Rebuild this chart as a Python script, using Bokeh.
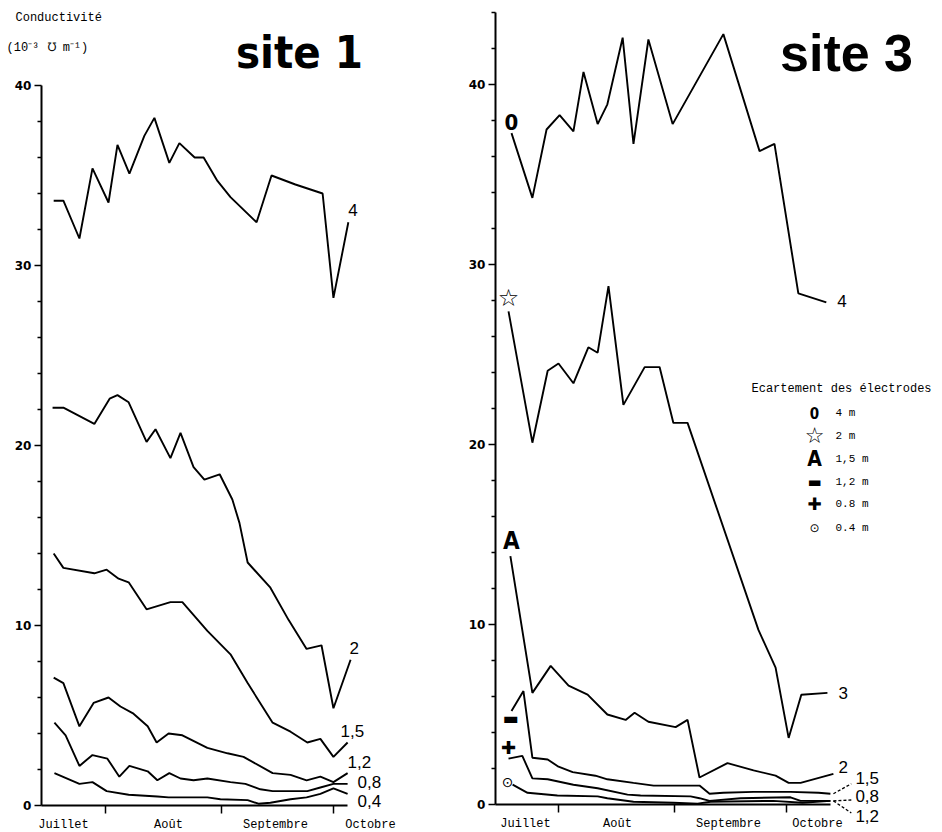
from bokeh.plotting import figure
from bokeh.layouts import row
from bokeh.models import Range1d, FixedTicker, Label
from bokeh.embed import file_html
from bokeh.resources import INLINE

# x: days after 1 July ; y: conductivity (10^-3 mho/m)
# ---------------- site 1 ----------------
s1_4_x = [17.1, 19.7, 24.0, 27.5, 31.8, 34.2, 37.4, 41.4, 44.1, 48.1, 50.8, 54.9, 57.3, 61.0, 64.5, 71.5, 75.5, 81.9, 89.2, 92.1, 96.1]
s1_4_y = [33.6, 33.6, 31.5, 35.4, 33.5, 36.7, 35.1, 37.2, 38.2, 35.7, 36.8, 36.0, 36.0, 34.7, 33.8, 32.4, 35.0, 34.5, 34.0, 28.2, 32.4]

s1_2_x = [16.8, 19.7, 28.0, 32.1, 34.2, 37.2, 42.0, 44.4, 48.4, 51.1, 54.6, 57.5, 61.6, 65.0, 66.9, 69.1, 75.2, 80.1, 84.9, 88.9, 92.1, 96.7]
s1_2_y = [22.1, 22.1, 21.2, 22.6, 22.8, 22.4, 20.2, 20.9, 19.3, 20.7, 18.8, 18.1, 18.4, 17.0, 15.7, 13.5, 12.1, 10.3, 8.7, 8.9, 5.4, 8.1]

s1_15_x = [17.1, 19.7, 28.0, 31.3, 34.5, 37.2, 42.0, 48.4, 51.6, 58.3, 64.5, 69.1, 75.8, 80.6, 85.1, 88.6, 92.1, 95.9]
s1_15_y = [14.0, 13.2, 12.9, 13.1, 12.6, 12.4, 10.9, 11.3, 11.3, 9.7, 8.4, 6.8, 4.6, 4.1, 3.5, 3.7, 2.7, 3.5]

s1_12_x = [17.1, 19.7, 24.0, 27.8, 31.8, 35.0, 38.5, 42.3, 44.7, 47.9, 51.6, 58.3, 63.7, 68.0, 75.8, 80.6, 84.9, 88.6, 92.1, 95.9]
s1_12_y = [7.1, 6.8, 4.4, 5.7, 6.0, 5.5, 5.1, 4.4, 3.5, 4.0, 3.9, 3.2, 2.9, 2.7, 1.8, 1.7, 1.4, 1.6, 1.3, 1.8]

s1_08_x = [17.3, 20.3, 24.0, 27.5, 31.5, 34.7, 37.4, 42.3, 44.9, 48.1, 51.1, 54.6, 58.3, 64.5, 68.5, 72.5, 75.8, 80.6, 85.1, 88.6, 92.1, 95.9]
s1_08_y = [4.6, 3.9, 2.2, 2.8, 2.6, 1.6, 2.2, 1.9, 1.4, 1.8, 1.5, 1.4, 1.5, 1.3, 1.2, 0.9, 0.8, 0.8, 0.8, 1.0, 1.2, 1.2]

s1_04_x = [17.3, 24.0, 27.5, 31.3, 37.2, 44.9, 47.9, 58.3, 61.8, 69.1, 72.0, 75.2, 80.6, 84.9, 88.6, 92.1, 95.9]
s1_04_y = [1.8, 1.2, 1.3, 0.8, 0.6, 0.5, 0.45, 0.45, 0.35, 0.3, 0.1, 0.15, 0.35, 0.45, 0.65, 0.95, 0.65]

s1_names = ["4", "2", "1,5", "1,2", "0,8", "0,4"]

# ---------------- site 3 ----------------
s3_4_x = [18.4, 24.0, 27.8, 31.3, 35.0, 37.7, 41.5, 44.1, 48.2, 51.1, 55.1, 61.6, 75.2, 84.9, 88.9, 95.3, 102.8]
s3_4_y = [37.3, 33.7, 37.5, 38.3, 37.4, 40.7, 37.8, 38.9, 42.6, 36.7, 42.5, 37.8, 42.8, 36.3, 36.7, 28.4, 27.9]

s3_3_x = [17.6, 24.0, 28.1, 31.0, 35.0, 39.0, 41.5, 44.4, 48.4, 54.1, 58.1, 61.8, 65.6, 84.6, 89.2, 92.7, 96.1, 103.1]
s3_3_y = [27.4, 20.1, 24.1, 24.5, 23.4, 25.4, 25.1, 28.8, 22.2, 24.3, 24.3, 21.2, 21.2, 9.7, 7.6, 3.7, 6.1, 6.2]

s3_2_x = [18.1, 24.0, 28.9, 33.7, 38.8, 44.1, 49.0, 51.4, 55.1, 62.4, 65.6, 68.8, 76.3, 83.3, 89.2, 92.7, 95.9, 104.7]
s3_2_y = [13.8, 6.2, 7.7, 6.6, 6.1, 5.0, 4.7, 5.1, 4.6, 4.3, 4.7, 1.5, 2.3, 1.9, 1.6, 1.2, 1.2, 1.7]

s3_15_x = [18.4, 21.6, 24.0, 28.1, 31.0, 34.8, 40.9, 44.1, 51.1, 56.5, 68.8, 71.5, 75.2, 83.3, 93.2, 100.7, 103.9]
s3_15_y = [5.2, 6.3, 2.6, 2.5, 2.1, 1.8, 1.6, 1.4, 1.2, 1.05, 1.05, 0.6, 0.65, 0.7, 0.7, 0.65, 0.6]

s3_08_x = [17.6, 21.3, 24.0, 28.1, 35.0, 41.5, 49.5, 53.0, 66.4, 68.8, 71.5, 79.8, 93.2, 95.9, 103.9]
s3_08_y = [2.55, 2.7, 1.45, 1.4, 1.1, 0.9, 0.55, 0.5, 0.45, 0.35, 0.2, 0.35, 0.4, 0.2, 0.2]

s3_12_x = [18.7, 22.7, 30.7, 41.5, 44.1, 51.1, 61.8, 68.3, 71.8, 88.6, 96.4, 103.9]
s3_12_y = [1.1, 0.65, 0.5, 0.45, 0.35, 0.15, 0.1, 0.05, 0.15, 0.2, 0.1, 0.2]

s3_names = ["4", "3", "2", "1,5", "0,8", "1,2"]
s3_markers = ["0", "\u2606", "A", "\u25ac", "\u271a", "\u2299"]
legend_labels = ["4 m", "2 m", "1,5 m", "1,2 m", "0.8 m", "0.4 m"]

months = ["Juillet", "Août", "Septembre", "Octobre"]
month_bounds = [31, 62, 92]
y_major = [0, 10, 20, 30, 40]

MONO = "Liberation Mono"
SANS = "Liberation Sans"
NARROW = "'Liberation Sans Narrow', 'DejaVu Sans Condensed', 'Liberation Sans', sans-serif"

H = 830


def s1_px(ix, iy):
    return ((ix + 10.6) / 3.73, (805 - iy) / 18.0)


def s3_px(ix, iy):
    return (31 + (ix - 558) / 3.73, (804 - iy) / 18.0)


def add_label(p, xy, text, font, size, style="normal", align="left",
              baseline="middle", dx=0, dy=0):
    p.add_layout(Label(x=xy[0], y=xy[1], text=text, text_font=font,
                       text_font_size=f"{size}px", text_font_style=style,
                       text_align=align, text_baseline=baseline,
                       x_offset=dx, y_offset=dy, text_color="black"))


def make_fig(px, left, right, x0, x1, ymax):
    (xa_, yb_) = px(left, H)
    (xb_, yt_) = px(right, 0)
    p = figure(width=right - left, height=H,
               x_range=Range1d(xa_, xb_), y_range=Range1d(yb_, yt_),
               min_border=0, min_border_left=0, min_border_right=0,
               min_border_top=0, min_border_bottom=0,
               toolbar_location=None, output_backend="svg")
    p.xgrid.visible = False
    p.ygrid.visible = False
    p.outline_line_color = None
    p.background_fill_color = "white"
    p.border_fill_color = "white"
    ya = p.yaxis[0]
    ya.fixed_location = x0
    ya.bounds = (0, ymax)
    ya.ticker = FixedTicker(ticks=y_major,
                            minor_ticks=[v for v in range(2, ymax + 1, 2) if v % 10])
    ya.axis_line_width = 2
    ya.axis_line_color = "black"
    ya.major_tick_out = 7
    ya.major_tick_in = 0
    ya.minor_tick_out = 4
    ya.minor_tick_in = 0
    ya.major_tick_line_width = 1.5
    ya.minor_tick_line_width = 1.5
    ya.major_tick_line_color = "black"
    ya.minor_tick_line_color = "black"
    ya.major_label_text_font = "DejaVu Sans"
    ya.major_label_text_font_size = "12px"
    ya.major_label_text_font_style = "bold"
    ya.major_label_text_color = "black"
    ya.major_label_standoff = 3
    xa = p.xaxis[0]
    xa.fixed_location = 0
    xa.bounds = (x0, x1)
    xa.ticker = FixedTicker(ticks=[], minor_ticks=month_bounds)
    xa.axis_line_width = 2
    xa.axis_line_color = "black"
    xa.minor_tick_out = 8
    xa.minor_tick_in = 0
    xa.minor_tick_line_width = 1.5
    xa.minor_tick_line_color = "black"
    return p


# ---------------- figure site 1 ----------------
p1 = make_fig(s1_px, 0, 448, 13.8, 95.9, 40)

s1_series = [(s1_4_x, s1_4_y), (s1_2_x, s1_2_y), (s1_15_x, s1_15_y),
             (s1_12_x, s1_12_y), (s1_08_x, s1_08_y), (s1_04_x, s1_04_y)]
s1_label_off = [(0, 12), (-1, 12), (-7, 12), (0, 11), (10, 2), (10, -7)]
for (xs, ys), name, off in zip(s1_series, s1_names, s1_label_off):
    p1.line(xs, ys, line_width=1.9, line_color="black")
    add_label(p1, (xs[-1], ys[-1]), name, SANS, 17, dx=off[0], dy=off[1])

add_label(p1, s1_px(15, 17), "Conductivité", MONO, 12)
add_label(p1, s1_px(6, 47), "(10\u207b\u00b3 \u2127  m\u207b\u00b9)", MONO, 12)
add_label(p1, s1_px(299, 52), "site 1", NARROW, 45, style="bold", align="center")
for mname, ix in zip(months, [63, 168, 275, 370]):
    add_label(p1, s1_px(ix, 824), mname, MONO, 12, align="center")

# ---------------- figure site 3 ----------------
p3 = make_fig(s3_px, 448, 940, 14.1, 103.9, 44)

s3_series = [(s3_4_x, s3_4_y), (s3_3_x, s3_3_y), (s3_2_x, s3_2_y),
             (s3_15_x, s3_15_y), (s3_08_x, s3_08_y), (s3_12_x, s3_12_y)]
s3_label_off = [(11, 1), (11, 0), (5, 7), (25, 16), (25, 5), (25, -15)]
s3_marker_off = [(0, 11), (0, 13), (1, 15), (-1, -7), (0, 11), (-5, 3)]
s3_marker_font = [(NARROW, 22, "bold"), ("DejaVu Sans", 24, "normal"),
                  (NARROW, 24, "bold"), ("DejaVu Sans", 17, "normal"),
                  ("DejaVu Sans", 18, "normal"), ("DejaVu Sans", 14, "normal")]
leader_dy = [None, None, None, 0.55, 0.05, -0.67]
for (xs, ys), name, off, mk, moff, mf, ld in zip(s3_series, s3_names, s3_label_off,
                                                 s3_markers, s3_marker_off,
                                                 s3_marker_font, leader_dy):
    p3.line(xs, ys, line_width=1.9, line_color="black")
    add_label(p3, (xs[-1], ys[-1]), name, SANS, 17, dx=off[0], dy=off[1])
    add_label(p3, (xs[0], ys[0]), mk, mf[0], mf[1], style=mf[2],
              align="center", dx=moff[0], dy=moff[1])
    if ld is not None:
        p3.segment(x0=[xs[-1] + 0.8], y0=[ys[-1]], x1=[xs[-1] + 5.6],
                   y1=[ys[-1] + ld], line_color="black", line_width=1.3,
                   line_dash="3 2")

add_label(p3, s3_px(846, 52), "site 3", SANS, 52, style="bold", align="center")
for mname, ix in zip(months, [525, 617, 728, 817]):
    add_label(p3, s3_px(ix, 823), mname, MONO, 12, align="center")

# legend
add_label(p3, s3_px(751, 388), "Ecartement des électrodes", MONO, 12)
legend_rows = [412, 435, 458, 481, 503, 527]
legend_sizes = [15, 22, 21, 15, 17, 12]
for mk, lab, iy, mf, ms in zip(s3_markers, legend_labels, legend_rows,
                               s3_marker_font, legend_sizes):
    add_label(p3, s3_px(814, iy), mk, mf[0], ms, style=mf[2], align="center")
    add_label(p3, s3_px(835, iy), lab, MONO, 11)

layout = row(p1, p3)
open("out.html", "w").write(file_html(layout, INLINE))
